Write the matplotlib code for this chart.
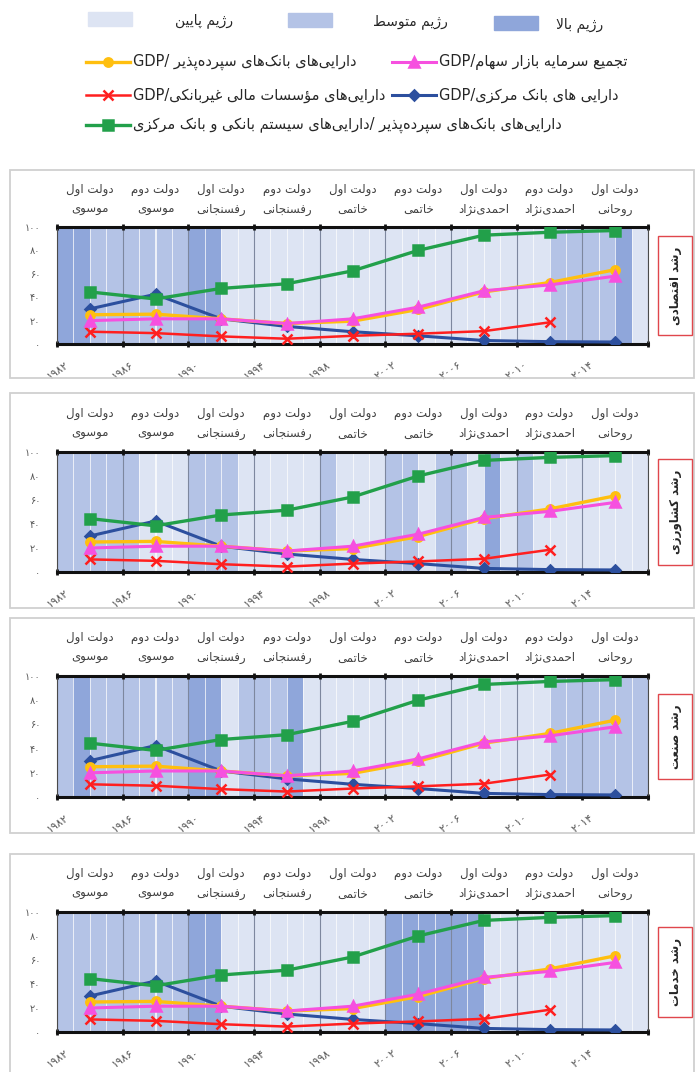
import re

import matplotlib
matplotlib.use('Agg')
import matplotlib.pyplot as plt
from matplotlib import font_manager
from matplotlib.ft2font import FT2Font
from matplotlib.patches import Rectangle
from matplotlib.lines import Line2D

plt.rcParams['font.family'] = ['DejaVu Sans']

# ---------------------------------------------------------------- data
term_mid = [1984, 1988, 1992, 1996, 2000, 2004, 2008, 2012, 2016]
term_order = ['دولت اول', 'دولت دوم', 'دولت اول', 'دولت دوم', 'دولت اول',
              'دولت دوم', 'دولت اول', 'دولت دوم', 'دولت اول']
term_names = ['موسوی', 'موسوی', 'رفسنجانی', 'رفسنجانی', 'خاتمی', 'خاتمی',
              'احمدی‌نژاد', 'احمدی‌نژاد', 'روحانی']

deposit_banks_gdp = [25, 25.5, 21.5, 17.5, 19.5, 29.5, 44.5, 52.5, 63.5]
stock_market_gdp = [20, 21.5, 21.5, 17.5, 21.5, 31.5, 45.5, 50.5, 58]
nonbank_gdp = [10.5, 9.3, 6.5, 4.5, 7, 8.8, 11, 18.5]
central_bank_gdp = [30, 42.5, 21.5, 15, 10.5, 7, 3, 2, 1.7]
deposit_share = [44.5, 38.5, 47.5, 51.5, 62.5, 80, 93, 95.5, 97]

# growth regime for each year 1982..2017 (L = low, M = medium, H = high),
# grouped by four-year government terms
regime_years = list(range(1982, 2018))
regime_economy = 'HHMM MMMM HHLL LLLL LLLL LLLL LLLL LLMM MMHL'
regime_agriculture = 'MMMM MLLL MMML LLLL MLLL MMLM MLHL MLLL LLLL'
regime_industry = 'MHMM MMMM HHLM MMHL LLLL LLLL LLLL LLMM MMMM'
regime_services = 'MMMM MMMM HHLL LLLL LLLL HHHH HHLL LLLL LLLL'

panel_titles = ['رشد اقتصادی', 'رشد کشاورزی', 'رشد صنعت', 'رشد خدمات']
panel_regimes = [regime_economy, regime_agriculture, regime_industry, regime_services]

x_ticks = [1982, 1986, 1990, 1994, 1998, 2002, 2006, 2010, 2014, 2018]
y_ticks = [0, 20, 40, 60, 80, 100]

regime_labels = ['رژیم پایین', 'رژیم متوسط', 'رژیم بالا']

# ---------------------------------------------------------------- persian text
# isolated, final, initial, medial (two forms for right-joining letters)
FORMS = {
    'آ': '\ufe81\ufe82', 'ا': '\ufe8d\ufe8e', 'ؤ': '\ufe85\ufe86',
    'ئ': '\ufe89\ufe8a\ufe8b\ufe8c', 'ب': '\ufe8f\ufe90\ufe91\ufe92',
    'پ': '\ufb56\ufb57\ufb58\ufb59', 'ت': '\ufe95\ufe96\ufe97\ufe98',
    'ث': '\ufe99\ufe9a\ufe9b\ufe9c', 'ج': '\ufe9d\ufe9e\ufe9f\ufea0',
    'چ': '\ufb7a\ufb7b\ufb7c\ufb7d', 'ح': '\ufea1\ufea2\ufea3\ufea4',
    'خ': '\ufea5\ufea6\ufea7\ufea8', 'د': '\ufea9\ufeaa', 'ذ': '\ufeab\ufeac',
    'ر': '\ufead\ufeae', 'ز': '\ufeaf\ufeb0', 'ژ': '\ufb8a\ufb8b',
    'س': '\ufeb1\ufeb2\ufeb3\ufeb4', 'ش': '\ufeb5\ufeb6\ufeb7\ufeb8',
    'ص': '\ufeb9\ufeba\ufebb\ufebc', 'ض': '\ufebd\ufebe\ufebf\ufec0',
    'ط': '\ufec1\ufec2\ufec3\ufec4', 'ظ': '\ufec5\ufec6\ufec7\ufec8',
    'ع': '\ufec9\ufeca\ufecb\ufecc', 'غ': '\ufecd\ufece\ufecf\ufed0',
    'ف': '\ufed1\ufed2\ufed3\ufed4', 'ق': '\ufed5\ufed6\ufed7\ufed8',
    'ک': '\ufb8e\ufb8f\ufb90\ufb91', 'گ': '\ufb92\ufb93\ufb94\ufb95',
    'ل': '\ufedd\ufede\ufedf\ufee0', 'م': '\ufee1\ufee2\ufee3\ufee4',
    'ن': '\ufee5\ufee6\ufee7\ufee8', 'ه': '\ufee9\ufeea\ufeeb\ufeec',
    'و': '\ufeed\ufeee', 'ی': '\ufbfc\ufbfd\ufbfe\ufbff',
}


def font_chars(weight='normal'):
    path = font_manager.findfont(font_manager.FontProperties(family='DejaVu Sans', weight=weight))
    return set(FT2Font(path).get_charmap())


CHARS = font_chars()


def pick(glyph, base):
    return glyph if ord(glyph) in CHARS else base


def fa(text):
    """Join persian letters and lay the string out right to left."""
    text = text.replace('ي', 'ی').replace('ك', 'ک')
    out = []
    i = 0
    while i < len(text):
        c = text[i]
        if c not in FORMS:
            if c != '\u200c':
                out.append(c)
            i += 1
            continue
        prev = text[i - 1] if i > 0 else ''
        link_prev = prev in FORMS and len(FORMS[prev]) == 4
        nxt = text[i + 1] if i + 1 < len(text) else ''
        if c == 'ل' and nxt == 'ا':
            out.append(pick('\ufefc' if link_prev else '\ufefb', 'لا'))
            i += 2
            continue
        f = FORMS[c]
        link_next = len(f) == 4 and nxt in FORMS
        if link_prev and link_next:
            g = f[3]
        elif link_prev:
            g = f[1]
        elif link_next:
            g = f[2]
        else:
            g = f[0]
        out.append(pick(g, c))
        i += 1
    visual = ''.join(out)[::-1]
    return re.sub(r'[A-Za-z0-9]+', lambda m: m.group(0)[::-1], visual)


FA_DIGITS = str.maketrans('0123456789', '۰۱۲۳۴۵۶۷۸۹')


def fa_num(n):
    s = str(n).translate(FA_DIGITS)
    return s if all(ord(ch) in CHARS for ch in s) else str(n)


# ---------------------------------------------------------------- styles
REGIME_COLORS = {'L': '#dde4f3', 'M': '#b4c3e6', 'H': '#8fa6da'}
SERIES = [
    # values, color, marker, size, line width
    (central_bank_gdp, '#2c4f9e', 'D', 5, 2.2),
    (nonbank_gdp, '#ff1f1f', 'x', 7, 1.8),
    (deposit_banks_gdp, '#ffbf0f', 'o', 6, 2.4),
    (stock_market_gdp, '#f650df', '^', 7, 2.2),
    (deposit_share, '#22a04a', 's', 6.5, 2.4),
]
TEXT = '#404040'

W, H = 696, 1072
fig = plt.figure(figsize=(W / 100, H / 100), dpi=100)


def rect(x0, y0, x1, y1):
    return [x0 / W, 1 - y1 / H, (x1 - x0) / W, (y1 - y0) / H]


# ---------------------------------------------------------------- legend
leg = fig.add_axes(rect(0, 0, W, 150))
leg.set_xlim(0, W)
leg.set_ylim(150, 0)
leg.axis('off')

for (x0, y0), code, label, (tx, ty) in zip(
        [(88, 12), (288, 13), (494, 16)], 'LMH', regime_labels,
        [(204, 21), (410, 22), (580, 25)]):
    leg.add_patch(Rectangle((x0, y0), 44, 14, color=REGIME_COLORS[code]))
    leg.text(tx, ty, fa(label), ha='center', va='center', fontsize=10, color='#262626')

legend_rows = [
    (86, 62, SERIES[2], 'دارایی‌های بانک‌های سپرده‌پذیر /GDP'),
    (392, 62, SERIES[3], 'تجمیع سرمایه بازار سهام/GDP'),
    (86, 95, SERIES[1], 'دارایی‌های مؤسسات مالی غیربانکی/GDP'),
    (392, 95, SERIES[0], 'دارایی های بانک مرکزی/GDP'),
    (86, 125, SERIES[4], 'دارایی‌های بانک‌های سپرده‌پذیر /دارایی‌های سیستم بانکی و بانک مرکزی'),
]
for x0, y0, (_, color, marker, ms, lw), label in legend_rows:
    leg.add_line(Line2D([x0, x0 + 44], [y0, y0], color=color, lw=lw))
    leg.add_line(Line2D([x0 + 22], [y0], color=color, marker=marker, ms=ms, mew=1.8))
    leg.text(x0 + 47, y0, fa(label), ha='left', va='center', fontsize=10.5, color='#262626')

# ---------------------------------------------------------------- panels
axes_y = [(227, 344), (452, 572), (676, 797), (912, 1032)]
cards_y = [(170, 378), (393, 608), (618, 833), (854, 1090)]

for (top, bottom), (c0, c1), title, regimes in zip(axes_y, cards_y, panel_titles, panel_regimes):
    fig.patches.append(Rectangle((10 / W, 1 - c1 / H), 684 / W, (c1 - c0) / H,
                                 transform=fig.transFigure, fill=False,
                                 ec='#d0d0d0', lw=1.3))

    ax = fig.add_axes(rect(57, top, 648, bottom))
    codes = regimes.replace(' ', '')
    assert len(codes) == len(regime_years)
    ax.bar([y + 0.5 for y in regime_years], 100, width=1.0,
           color=[REGIME_COLORS[c] for c in codes],
           edgecolor=(1, 1, 1, 0.55), linewidth=0.7, zorder=0.2)

    for values, color, marker, ms, lw in SERIES:
        ax.plot(term_mid[:len(values)], values, '-', color=color, lw=lw,
                marker=marker, ms=ms, mew=1.8, zorder=3)

    ax.set_xlim(x_ticks[0], x_ticks[-1])
    ax.set_ylim(0, 100)
    ax.set_axisbelow(True)
    ax.grid(axis='x', color='#7d879e', lw=0.8)

    ax.set_xticks(x_ticks)
    ax.set_xticklabels([fa_num(y) for y in x_ticks[:-1]] + [''],
                       rotation=35, fontsize=8, color='#595959')
    ax.set_yticks(y_ticks)
    ax.set_yticklabels([fa_num(v) for v in y_ticks], fontsize=7, color='#595959')
    ax.tick_params(axis='x', top=True, bottom=True, direction='inout',
                   length=5, width=2, color='#111111', pad=9)
    ax.tick_params(axis='y', length=0, pad=12)

    for side in ('top', 'bottom'):
        ax.spines[side].set_linewidth(2.2)
        ax.spines[side].set_color('#111111')
    for side in ('left', 'right'):
        ax.spines[side].set_linewidth(0.8)
        ax.spines[side].set_color('#4a4a4a')

    # government terms above the plot
    for x, order, name in zip(term_mid, term_order, term_names):
        ax.annotate(fa(order), (x, 100), textcoords='offset pixels', xytext=(0, 38),
                    ha='center', va='center', fontsize=8.5, color=TEXT, annotation_clip=False)
        ax.annotate(fa(name), (x, 100), textcoords='offset pixels', xytext=(0, 18),
                    ha='center', va='center', fontsize=8.5, color=TEXT, annotation_clip=False)

    fig.text(675 / W, 1 - (top + bottom) / 2 / H, fa(title), rotation=90,
             ha='center', va='center', fontsize=8.5, fontweight='bold', color='#262626',
             bbox=dict(boxstyle='square,pad=0.9', fc='white', ec='#e0474c', lw=1.0))

fig.savefig('out.png', dpi=100, facecolor='white')
